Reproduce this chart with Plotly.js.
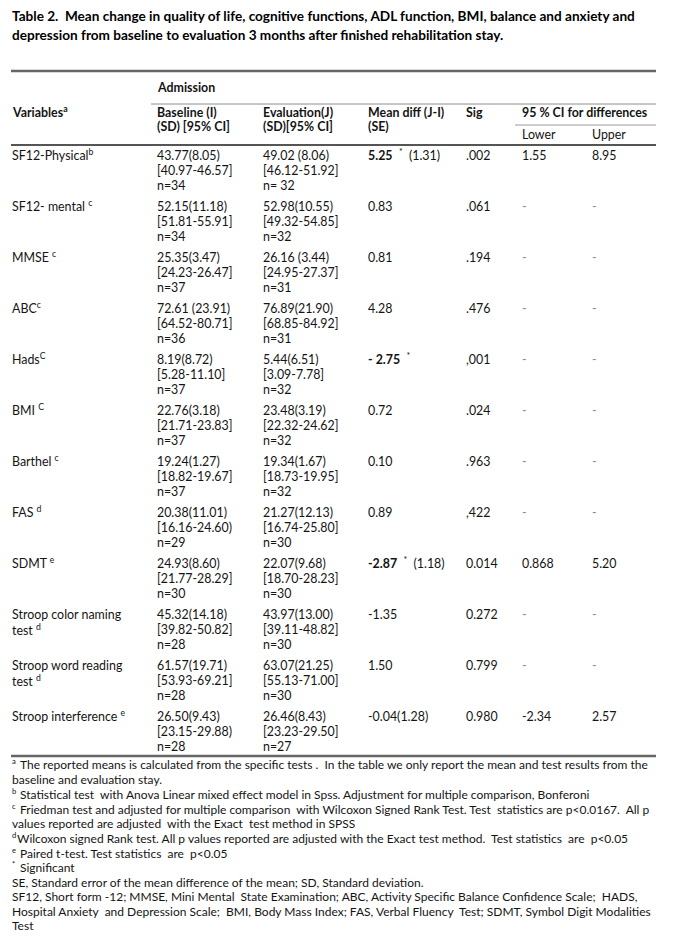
<!DOCTYPE html>
<html><head><meta charset="utf-8">
<script src="https://cdn.plot.ly/plotly-3.0.1.min.js"></script>
<style>html,body{margin:0;padding:0;background:#fff;}#chart{width:676px;height:952px;}</style>
</head><body><div id="chart"></div>
<script>
// ---------- DATA ----------
const titleLines = [
  'Table 2.  Mean change in quality of life, cognitive functions, ADL function, BMI, balance and anxiety and',
  'depression from baseline to evaluation 3 months after finished rehabilitation stay.'
];
const headerGroup = 'Admission';
const headerVariables = 'Variables';
const headerVariablesNote = 'a';
const headerBaseline = ['Baseline (I)', '(SD) [95% CI]'];
const headerEvaluation = ['Evaluation(J)', '(SD)[95% CI]'];
const headerMeanDiff = ['Mean diff (J-I)', '(SE)'];
const headerSig = 'Sig';
const headerCI = '95 % CI for differences';
const headerLower = 'Lower';
const headerUpper = 'Upper';

const variables = ['SF12-Physical', 'SF12- mental ', 'MMSE ', 'ABC', 'Hads', 'BMI ', 'Barthel ', 'FAS ', 'SDMT ',
  'Stroop color naming', 'Stroop word reading', 'Stroop interference '];
const variablesLine2 = ['', '', '', '', '', '', '', '', '', 'test ', 'test ', ''];
const variableNotes = ['b', 'c', 'c', 'c', 'C', 'C', 'c', 'd', 'e', 'd', 'd', 'e'];

const baselineMean = ['43.77(8.05)', '52.15(11.18)', '25.35(3.47)', '72.61 (23.91)', '8.19(8.72)', '22.76(3.18)',
  '19.24(1.27)', '20.38(11.01)', '24.93(8.60)', '45.32(14.18)', '61.57(19.71)', '26.50(9.43)'];
const baselineCI = ['[40.97-46.57]', '[51.81-55.91]', '[24.23-26.47]', '[64.52-80.71]', '[5.28-11.10]', '[21.71-23.83]',
  '[18.82-19.67]', '[16.16-24.60)', '[21.77-28.29]', '[39.82-50.82]', '[53.93-69.21]', '[23.15-29.88)'];
const baselineN = ['n=34', 'n=34', 'n=37', 'n=36', 'n=37', 'n=37', 'n=37', 'n=29', 'n=30', 'n=28', 'n=28', 'n=28'];

const evaluationMean = ['49.02 (8.06)', '52.98(10.55)', '26.16 (3.44)', '76.89(21.90)', '5.44(6.51)', '23.48(3.19)',
  '19.34(1.67)', '21.27(12.13)', '22.07(9.68)', '43.97(13.00)', '63.07(21.25)', '26.46(8.43)'];
const evaluationCI = ['[46.12-51.92]', '[49.32-54.85]', '[24.95-27.37]', '[68.85-84.92]', '[3.09-7.78]', '[22.32-24.62]',
  '[18.73-19.95]', '[16.74-25.80]', '[18.70-28.23]', '[39.11-48.82]', '[55.13-71.00]', '[23.23-29.50]'];
const evaluationN = ['n= 32', 'n=32', 'n=31', 'n=31', 'n=32', 'n=32', 'n=32', 'n=30', 'n=30', 'n=30', 'n=30', 'n=27'];

const meanDiff = ['5.25', '0.83', '0.81', '4.28', '- 2.75', '0.72', '0.10', '0.89', '-2.87', '-1.35', '1.50', '-0.04'];
const meanDiffSE = ['(1.31)', '', '', '', '', '', '', '', '(1.18)', '', '', '(1.28)'];
const significant = [true, false, false, false, true, false, false, false, true, false, false, false];
const sigValues = ['.002', '.061', '.194', '.476', ',001', '.024', '.963', ',422', '0.014', '0.272', '0.799', '0.980'];
const ciLower = ['1.55', '-', '-', '-', '-', '-', '-', '-', '0.868', '-', '-', '-2.34'];
const ciUpper = ['8.95', '-', '-', '-', '-', '-', '-', '-', '5.20', '-', '-', '2.57'];

const footnoteMarks = ['a', '', 'b', 'c', '', 'd', 'e', '*', '', '', '', ''];
const footnoteTexts = [
  'The reported means is calculated from the specific tests .  In the table we only report the mean and test results from the',
  'baseline and evaluation stay.',
  'Statistical test  with Anova Linear mixed effect model in Spss. Adjustment for multiple comparison, Bonferoni',
  'Friedman test and adjusted for multiple comparison  with Wilcoxon Signed Rank Test. Test  statistics are p&lt;0.0167.  All p',
  'values reported are adjusted  with the Exact  test method in SPSS',
  'Wilcoxon signed Rank test. All p values reported are adjusted with the Exact test method.  Test statistics  are  p&lt;0.05',
  'Paired t-test. Test statistics  are  p&lt;0.05',
  'Significant',
  'SE, Standard error of the mean difference of the mean; SD, Standard deviation.',
  'SF12, Short form -12; MMSE, Mini Mental  State Examination; ABC, Activity Specific Balance Confidence Scale;  HADS,',
  'Hospital Anxiety  and Depression Scale;  BMI, Body Mass Index; FAS, Verbal Fluency  Test; SDMT, Symbol Digit Modalities',
  'Test'
];
const footnoteGap = [4, 0, 4, 4, 0, 1, 4, 4, 0, 0, 0, 0];

// ---------- LAYOUT GEOMETRY ----------
const W = 676, H = 952;
const FONT = 'Lato, "Open Sans", sans-serif';
const TXT = '#141414';
const BODY = 12.4;
const FOOT = 12;
const colX = {v: 11, base: 156, evalc: 262, md: 367, sig: 465, lo: 521, up: 591};
const L = 15;          // line pitch inside a row
const rowTop = 156;    // first row first line (centre)
const R = 51;          // row pitch
const left = 11, right = 656;

const ann = [];
// y = centre of the first text line; lines = number of <br>-separated lines
function t(x, y, text, o) {
  o = o || {};
  const size = o.size || BODY;
  const lines = o.lines || 1;
  ann.push({
    x: x, y: y + 0.62 * size + (lines - 1) * 1.3 * size, xref: 'x', yref: 'y', text: text, showarrow: false,
    xanchor: 'left', yanchor: 'bottom', align: 'left',
    borderpad: 0,
    font: {family: FONT, size: size, color: o.color || TXT}
  });
}

// Title
titleLines.forEach((s, i) => t(11, 17 + i * 19, '<b>' + s + '</b>', {size: 13.6, color: '#000'}));

// Header
t(colX.base, 88, '<b>' + headerGroup + '</b>');
t(colX.v, 113, '<b>' + headerVariables + '<sup>' + headerVariablesNote + '</sup></b>');
headerBaseline.forEach((s, i) => t(colX.base, 113 + i * 14.5, '<b>' + s + '</b>'));
headerEvaluation.forEach((s, i) => t(colX.evalc, 113 + i * 14.5, '<b>' + s + '</b>'));
headerMeanDiff.forEach((s, i) => t(colX.md, 113 + i * 14.5, '<b>' + s + '</b>'));
t(colX.sig, 113, '<b>' + headerSig + '</b>');
t(colX.lo, 113, '<b>' + headerCI + '</b>');
t(colX.lo, 135, headerLower);
t(colX.up, 135, headerUpper);

// Body rows
variables.forEach((v, i) => {
  const y = rowTop + i * R;
  if (variablesLine2[i]) {
    t(colX.v, y, v + '<br>' + variablesLine2[i] + '<sup>' + variableNotes[i] + '</sup>', {lines: 2});
  } else {
    t(colX.v, y, v + '<sup>' + variableNotes[i] + '</sup>');
  }
  t(colX.base, y, baselineMean[i]);
  t(colX.base, y + L, baselineCI[i]);
  t(colX.base, y + 2 * L, baselineN[i]);
  t(colX.evalc, y, evaluationMean[i]);
  t(colX.evalc, y + L, evaluationCI[i]);
  t(colX.evalc, y + 2 * L, evaluationN[i]);
  const md = significant[i]
    ? '<b>' + meanDiff[i] + '</b>  <sup>*</sup>' + (meanDiffSE[i] ? '  ' + meanDiffSE[i] : '')
    : meanDiff[i] + meanDiffSE[i];
  t(colX.md, y, md);
  t(colX.sig, y, sigValues[i]);
  t(colX.lo, y, ciLower[i], {color: ciLower[i] === '-' ? '#8a8a8a' : TXT});
  t(colX.up, y, ciUpper[i], {color: ciUpper[i] === '-' ? '#8a8a8a' : TXT});
});

// Footnotes (superscript marks drawn as their own small texts)
const fnTop = 766, fnL = 14.48, SUP = 7.6;
let extra = 0;
footnoteTexts.forEach((s, i) => {
  // a little air where a marked line follows an unmarked full-width line
  if (footnoteMarks[i] && i > 0 && !footnoteMarks[i - 1]) extra += 0.8;
  const y = fnTop + i * fnL + extra;
  let x = left;
  if (footnoteMarks[i]) {
    t(left, y - 3.4, footnoteMarks[i], {size: SUP});
    x = left + 4 + footnoteGap[i];
  }
  t(x, y, s, {size: FOOT});
});

// Rules
function rule(x0, x1, y, w, c) {
  return {type: 'line', xref: 'x', yref: 'y', x0: x0, x1: x1, y0: y, y1: y, line: {color: c, width: w}};
}
const shapes = [
  rule(left, right, 71, 2.5, '#666666'),
  rule(151, right, 104, 1, '#8c8c8c'),
  rule(515, right, 125, 1, '#9a9a9a'),
  rule(left, right, 145, 1.8, '#555555'),
  rule(left, right, 756, 2.5, '#666666')
];

const layout = {
  width: W, height: H,
  margin: {l: 0, r: 0, t: 0, b: 0, pad: 0},
  paper_bgcolor: '#fff', plot_bgcolor: '#fff',
  showlegend: false,
  xaxis: {range: [0, W], visible: false, fixedrange: true},
  yaxis: {range: [H, 0], visible: false, fixedrange: true},
  annotations: ann,
  shapes: shapes
};
Plotly.newPlot('chart', [{type: 'scatter', x: [], y: [], hoverinfo: 'skip'}], layout, {staticPlot: true, displayModeBar: false});
</script>
</body></html>
